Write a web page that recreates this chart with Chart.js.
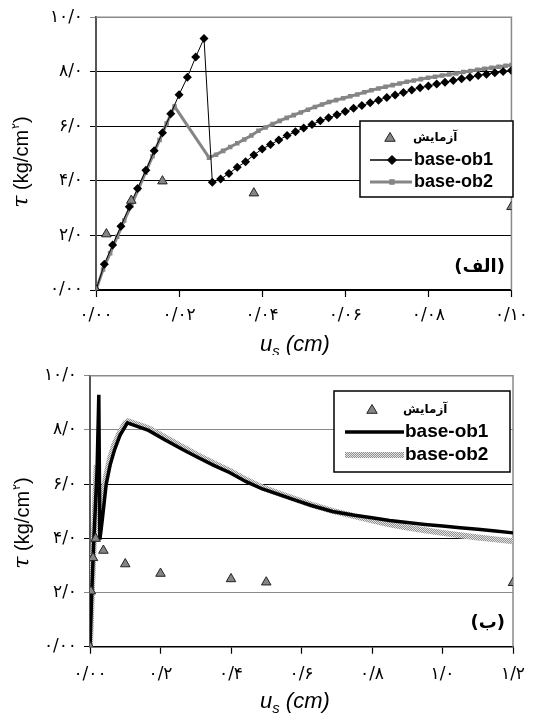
<!DOCTYPE html>
<html><head><meta charset="utf-8">
<script src="https://cdn.jsdelivr.net/npm/chart.js@4/dist/chart.umd.min.js"></script>
<style>
html,body{margin:0;padding:0;background:#fff;}
body{width:536px;height:720px;overflow:hidden;position:relative;}
.c{position:absolute;left:0;width:536px;}
</style></head><body>
<div class="c" style="top:0;height:355px"><canvas id="top" width="536" height="355"></canvas></div>
<div class="c" style="top:355px;height:365px"><canvas id="bot" width="536" height="365"></canvas></div>
<script>
// ---------- data ----------
const seriesLabels = ['آزمایش', 'base-ob1', 'base-ob2'];
const panelLabels = ['(الف)', '(ب)'];

// experiment (triangles)
const expX = [0, 0.0025, 0.0085, 0.016, 0.038, 0.1, 0.2, 0.4, 0.5, 1.2];
const expY = [0, 2.05, 3.28, 3.99, 3.55, 3.05, 2.7, 2.5, 2.38, 2.36];

// top panel: base-ob1 (diamonds)
const ob1TopX = [0,0.002,0.004,0.006,0.008,0.010,0.012,0.014,0.016,0.018,0.020,0.022,0.024,0.026,
  0.028,0.030,0.032,0.034,0.036,0.038,0.040,0.042,0.044,0.046,0.048,0.050,0.052,0.054,0.056,0.058,
  0.060,0.062,0.064,0.066,0.068,0.070,0.072,0.074,0.076,0.078,0.080,0.082,0.084,0.086,0.088,0.090,
  0.092,0.094,0.096,0.098,0.100];
const ob1TopY = [0,0.94,1.65,2.34,3.05,3.72,4.39,5.10,5.76,6.46,7.16,7.80,8.54,9.22,
  3.95,4.07,4.27,4.50,4.70,4.95,5.17,5.33,5.50,5.66,5.80,5.94,6.07,6.20,6.31,6.42,
  6.54,6.66,6.76,6.86,6.96,7.06,7.15,7.24,7.33,7.41,7.48,7.55,7.62,7.68,7.74,7.80,
  7.86,7.91,7.96,8.01,8.05];

// top panel: base-ob2 (squares)
const ob2TopX = [0,0.0017,0.0034,0.0051,0.0068,0.0085,0.0102,0.0119,0.0136,0.0153,0.017,0.0189,
  0.0272,0.0289,0.0306,0.0323,0.034,0.0357,0.0374,0.0391,0.0408,0.0425,0.0442,0.0459,0.0476,0.0493,
  0.051,0.0527,0.0544,0.0561,0.0578,0.0595,0.0612,0.0629,0.0646,0.0663,0.068,0.0697,0.0714,0.0731,
  0.0748,0.0765,0.0782,0.0799,0.0816,0.0833,0.085,0.0867,0.0884,0.0901,0.0918,0.0935,0.0952,0.0969,
  0.0986,0.1];
const ob2TopY = [0,0.75,1.35,1.95,2.55,3.1,3.7,4.3,4.9,5.5,6.1,6.73,
  4.85,4.96,5.10,5.24,5.38,5.52,5.66,5.84,5.96,6.08,6.20,6.31,6.41,6.51,
  6.61,6.71,6.80,6.89,6.96,7.03,7.10,7.17,7.25,7.32,7.39,7.45,7.51,7.57,
  7.63,7.68,7.73,7.78,7.82,7.86,7.90,7.94,7.99,8.03,8.07,8.11,8.15,8.18,
  8.22,8.25];

// bottom panel: base-ob1 (solid line)
const ob1BotX = [0,0.005,0.01,0.015,0.02,0.025,0.028,0.035,0.046,0.057,0.069,0.085,0.106,0.166,0.212,
  0.268,0.305,0.351,0.397,0.443,0.489,0.535,0.582,0.628,0.688,0.75,0.8,0.85,0.9,0.95,1.0,1.05,1.1,1.15,1.2];
const ob1BotY = [0,2.0,3.7,5.1,6.5,9.3,3.95,4.7,6.0,6.7,7.24,7.8,8.26,7.98,7.64,
  7.24,6.99,6.69,6.42,6.09,5.82,5.62,5.41,5.21,4.99,4.85,4.76,4.66,4.58,4.51,4.45,4.39,4.33,4.27,4.2];

// bottom panel: base-ob2 (stippled line)
const ob2BotX = [0,0.005,0.01,0.015,0.019,0.027,0.035,0.046,0.057,0.069,0.085,0.1,0.108,0.166,0.212,
  0.268,0.305,0.351,0.397,0.443,0.489,0.535,0.582,0.628,0.688,0.75,0.8,0.85,0.9,0.95,1.0,1.05,1.1,1.15,1.2];
const ob2BotY = [0,1.9,3.65,5.4,6.7,4.85,5.5,6.3,6.95,7.45,7.92,8.25,8.32,8.06,7.73,
  7.33,7.07,6.77,6.49,6.16,5.88,5.66,5.45,5.24,5.01,4.82,4.66,4.52,4.4,4.3,4.2,4.11,4.03,3.96,3.89];

// ticks
const yTickValues = [0, 2, 4, 6, 8, 10];
const yTickLabels = ['۰/۰۰', '۲/۰', '۴/۰', '۶/۰', '۸/۰', '۱۰/۰'];
const xTickValuesTop = [0, 0.02, 0.04, 0.06, 0.08, 0.10];
const xTickLabelsTop = ['۰/۰۰', '۰/۰۲', '۰/۰۴', '۰/۰۶', '۰/۰۸', '۰/۱۰'];
const xTickValuesBot = [0, 0.2, 0.4, 0.6, 0.8, 1.0, 1.2];
const xTickLabelsBot = ['۰/۰۰', '۰/۲', '۰/۴', '۰/۶', '۰/۸', '۱/۰', '۱/۲'];

// axis titles
const yTitleParts = ['τ', ' (kg/cm', '۲', ')'];
const xTitleParts = ['u', 's', ' (cm)'];

// ---------- helpers ----------
function pts(xs, ys){ return xs.map((x,i)=>({x:x, y:ys[i]})); }
function makeStipple(){
  const c = document.createElement('canvas'); c.width = 2; c.height = 2;
  const g = c.getContext('2d');
  g.fillStyle = '#e4e4e4'; g.fillRect(0,0,2,2);
  g.fillStyle = '#909090'; g.fillRect(0,0,1,1); g.fillRect(1,1,1,1);
  return g.createPattern(c, 'repeat');
}
const stipple = makeStipple();
const PFONT = '"DejaVu Sans", sans-serif';
const LFONT = '"Liberation Sans", Arial, sans-serif';

function drawMarker(ctx, style, x, y, r, fill, stroke){
  ctx.save();
  ctx.beginPath();
  if (style === 'triangle'){
    ctx.moveTo(x, y - r); ctx.lineTo(x + r*0.95, y + r*0.6); ctx.lineTo(x - r*0.95, y + r*0.6); ctx.closePath();
  } else if (style === 'rectRot'){
    ctx.moveTo(x, y - r); ctx.lineTo(x + r, y); ctx.lineTo(x, y + r); ctx.lineTo(x - r, y); ctx.closePath();
  } else {
    const s = r*Math.SQRT1_2; ctx.rect(x - s, y - s, 2*s, 2*s);
  }
  ctx.fillStyle = fill; ctx.fill();
  if (stroke){ ctx.strokeStyle = stroke; ctx.lineWidth = 1; ctx.stroke(); }
  ctx.restore();
}

const decoPlugin = {
  id: 'deco',
  beforeDatasetsDraw(chart, args, o){
    const ctx = chart.ctx, a = chart.chartArea;
    ctx.save();
    ctx.strokeStyle = '#8a8a8a'; ctx.lineWidth = 1.5;
    ctx.beginPath();
    ctx.moveTo(a.left, a.top); ctx.lineTo(a.right, a.top); ctx.lineTo(a.right, a.bottom);
    ctx.stroke();
    ctx.restore();
  },
  afterDatasetsDraw(chart, args, o){
    const ctx = chart.ctx, L = o.legend;
    ctx.save();
    ctx.fillStyle = '#fff';
    ctx.fillRect(L.x, L.y, L.w, L.h);
    ctx.strokeStyle = '#000'; ctx.lineWidth = 1.5;
    ctx.strokeRect(L.x, L.y, L.w, L.h);
    const ds = chart.data.datasets;
    L.rows.forEach((row, i) => {
      const d = ds[i];
      if (row.line){
        ctx.beginPath();
        ctx.strokeStyle = d.borderColor; ctx.lineWidth = Math.max(d.borderWidth, 1.4);
        ctx.moveTo(row.lx0, row.y); ctx.lineTo(row.lx1, row.y); ctx.stroke();
      }
      if (row.marker){
        drawMarker(ctx, d.pointStyle, row.mx, row.y, d.pointRadius, d.pointBackgroundColor || d.backgroundColor, d.pointBorderColor);
      }
      ctx.fillStyle = '#000';
      ctx.textBaseline = 'middle'; ctx.textAlign = 'left';
      ctx.font = row.font;
      ctx.fillText(d.label, row.tx, row.y + (row.dy || 0));
    });
    ctx.restore();
  },
  afterDraw(chart, args, o){
    const ctx = chart.ctx;
    ctx.save();
    ctx.fillStyle = '#000';
    ctx.font = 'bold 18px ' + PFONT;
    ctx.textAlign = 'right'; ctx.textBaseline = 'middle';
    ctx.fillText(o.panel.text, o.panel.x, o.panel.y);
    // y title (rotated)
    ctx.save();
    ctx.translate(o.yTitle.x, o.yTitle.y);
    ctx.rotate(-Math.PI/2);
    const f1 = 'italic 22px "DejaVu Serif", serif';
    const f2 = '20px ' + LFONT;
    const f3 = '11px ' + PFONT;
    ctx.font = f1; const w0 = ctx.measureText(yTitleParts[0]).width;
    ctx.font = f2; const w1 = ctx.measureText(yTitleParts[1]).width;
    ctx.font = f3; const w2 = ctx.measureText(yTitleParts[2]).width;
    ctx.font = f2; const w3 = ctx.measureText(yTitleParts[3]).width;
    let x = -(w0 + w1 + w2 + w3 + 1)/2;
    ctx.textAlign = 'left'; ctx.textBaseline = 'alphabetic';
    const base = 7;
    ctx.font = f1; ctx.fillText(yTitleParts[0], x, base); x += w0;
    ctx.font = f2; ctx.fillText(yTitleParts[1], x, base); x += w1 + 1;
    ctx.font = f3; ctx.fillText(yTitleParts[2], x, base - 9); x += w2;
    ctx.font = f2; ctx.fillText(yTitleParts[3], x, base);
    ctx.restore();
    // x title
    const g1 = 'italic 22px ' + LFONT, g2 = 'italic 15px ' + LFONT;
    let xx = o.xTitle.x; const by = o.xTitle.y;
    ctx.textAlign = 'left'; ctx.textBaseline = 'alphabetic';
    ctx.font = g1; ctx.fillText(xTitleParts[0], xx, by); xx += ctx.measureText(xTitleParts[0]).width;
    ctx.font = g2; ctx.fillText(xTitleParts[1], xx, by + 5); xx += ctx.measureText(xTitleParts[1]).width;
    ctx.font = g1; ctx.fillText(xTitleParts[2], xx, by);
    ctx.restore();
  }
};

function setTicks(vals){ return s => { s.ticks = vals.map(v => ({value: v})); }; }

function baseOptions(cfg){
  return {
    responsive: false, animation: false, devicePixelRatio: 1,
    layout: {padding: {top: cfg.top, right: 13, left: 0, bottom: 0}},
    plugins: {legend: {display: false}, tooltip: {enabled: false}, deco: cfg.deco},
    scales: {
      x: {
        type: 'linear', min: cfg.xmin, max: cfg.xmax,
        afterBuildTicks: setTicks(cfg.xVals),
        ticks: {callback: (v, i) => cfg.xLabels[i], font: {family: PFONT, size: 17}, color: '#000',
                padding: cfg.xPad, maxRotation: 0, autoSkip: false},
        grid: {drawOnChartArea: false, drawTicks: true, tickLength: 7, color: '#000', tickWidth: 1.2},
        border: {color: '#000', width: 1.5},
        afterFit: s => { s.height = cfg.xH; }
      },
      y: {
        min: 0, max: 10,
        afterBuildTicks: setTicks(yTickValues),
        ticks: {callback: (v, i) => yTickLabels[i], font: {family: PFONT, size: 17}, color: '#000', padding: 7},
        grid: {color: c => cfg.gridColor(c.tick ? c.tick.value : 0), lineWidth: 1, tickLength: 6},
        border: {color: '#555', width: 2},
        afterFit: s => { s.width = cfg.yW; }
      }
    }
  };
}

// ---------- top chart ----------
const expTopIdx = expX.map((x,i)=>i).filter(i => expX[i] <= 0.1001);
new Chart(document.getElementById('top'), {
  type: 'scatter',
  data: {datasets: [
    {label: seriesLabels[0], data: expTopIdx.map(i => ({x: expX[i], y: expY[i]})), showLine: false,
     pointStyle: 'triangle', pointRadius: 5.5, backgroundColor: '#858585', pointBackgroundColor: '#858585',
     pointBorderColor: '#222', pointBorderWidth: 1, order: 0},
    {label: seriesLabels[1], data: pts(ob1TopX, ob1TopY), showLine: true, borderColor: '#000', borderWidth: 1,
     pointStyle: 'rectRot', pointRadius: 4.5, backgroundColor: '#000', pointBackgroundColor: '#000',
     pointBorderColor: '#000', pointBorderWidth: 0, order: 1},
    {label: seriesLabels[2], data: pts(ob2TopX, ob2TopY), showLine: true, borderColor: '#858585', borderWidth: 3,
     pointStyle: 'rect', pointRadius: 3.2, backgroundColor: '#858585', pointBackgroundColor: '#858585',
     pointBorderColor: '#858585', pointBorderWidth: 0, order: 2}
  ]},
  options: baseOptions({
    top: 17, xmin: 0, xmax: 0.1, xVals: xTickValuesTop, xLabels: xTickLabelsTop, xPad: 8,
    xH: 355 - 290, yW: 96,
    gridColor: v => v === 10 ? '#8a8a8a' : '#000',
    deco: {
      legend: {x: 360, y: 121, w: 153, h: 76, rows: [
        {y: 138, marker: true, mx: 390, tx: 413, font: 'bold 12px ' + PFONT},
        {y: 160, line: true, lx0: 370, lx1: 412, marker: true, mx: 392, tx: 414, font: 'bold 18px ' + LFONT},
        {y: 182, line: true, lx0: 370, lx1: 412, marker: true, mx: 392, tx: 414, font: 'bold 18px ' + LFONT}
      ]},
      panel: {text: panelLabels[0], x: 505, y: 267},
      yTitle: {x: 21, y: 162},
      xTitle: {x: 260, y: 351}
    }
  }),
  plugins: [decoPlugin]
});

// ---------- bottom chart ----------
new Chart(document.getElementById('bot'), {
  type: 'scatter',
  data: {datasets: [
    {label: seriesLabels[0], data: pts(expX, expY), showLine: false,
     pointStyle: 'triangle', pointRadius: 5.5, backgroundColor: '#858585', pointBackgroundColor: '#858585',
     pointBorderColor: '#222', pointBorderWidth: 1, order: 0},
    {label: seriesLabels[1], data: pts(ob1BotX, ob1BotY), showLine: true, borderColor: '#000', borderWidth: 3.5,
     pointRadius: 0, order: 1},
    {label: seriesLabels[2], data: pts(ob2BotX, ob2BotY), showLine: true, borderColor: stipple, borderWidth: 6,
     pointRadius: 0, order: 2}
  ]},
  options: baseOptions({
    top: 20.7, xmin: 0, xmax: 1.2, xVals: xTickValuesBot, xLabels: xTickLabelsBot, xPad: 11,
    xH: 365 - 291.7, yW: 90,
    gridColor: v => (v === 10 || v === 8 || v === 2) ? '#8a8a8a' : '#000',
    deco: {
      legend: {x: 334, y: 36, w: 176, h: 81, rows: [
        {y: 55, marker: true, mx: 372, tx: 403, font: 'bold 12px ' + PFONT},
        {y: 77, line: true, lx0: 345, lx1: 404, tx: 405, font: 'bold 19px ' + LFONT},
        {y: 100, line: true, lx0: 345, lx1: 404, tx: 405, font: 'bold 19px ' + LFONT}
      ]},
      panel: {text: panelLabels[1], x: 505, y: 268},
      yTitle: {x: 22, y: 168},
      xTitle: {x: 260, y: 353}
    }
  }),
  plugins: [decoPlugin]
});
</script>
</body></html>
